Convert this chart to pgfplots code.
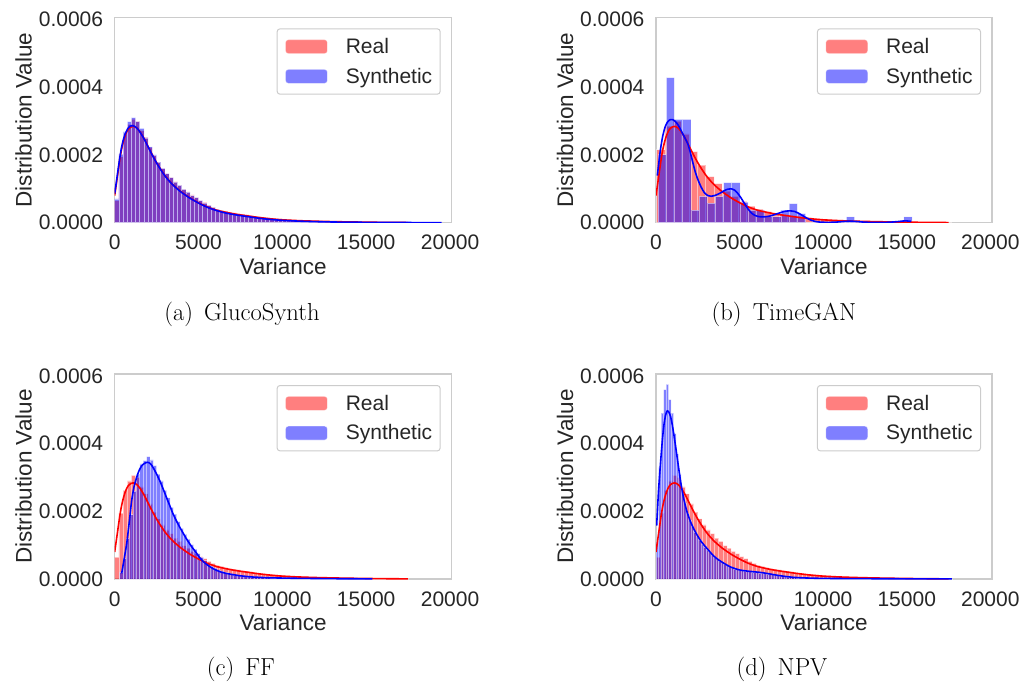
\documentclass[border=0pt]{standalone}
\usepackage{fontspec}
\usepackage{pgfplots}
\pgfplotsset{compat=1.18}
\newfontfamily\sans{Liberation Sans}
\definecolor{txt}{HTML}{262626}
\definecolor{frame}{HTML}{CCCCCC}

\pgfplotsset{
  histax/.style={
    scale only axis, anchor=north west,
    xmin=0, xmax=20100, ymin=0, ymax=6.06e-4,
    scaled ticks=false,
    xtick={0,5000,10000,15000,20000},
    xticklabels={0,5000,10000,15000,20000},
    ytick={0,2e-4,4e-4,6e-4},
    yticklabels={0.0000,0.0002,0.0004,0.0006},
    major tick length=0pt,
    axis line style={draw=frame, line width=1.3pt},
    tick label style={font=\sans\fontsize{21}{25}\selectfont, text=txt, inner sep=0pt},
    xticklabel style={anchor=base, yshift=-27pt},
    yticklabel style={anchor=east, xshift=-11.4pt},
    xlabel={Variance}, ylabel={Distribution Value},
    every axis x label/.style={at={(rel axis cs:0.5,0)}, yshift=-51.6pt, anchor=base,
      font=\sans\fontsize{22.5}{26}\selectfont, text=txt, inner sep=0pt},
    every axis y label/.style={at={(rel axis cs:0,0.5)}, anchor=base, rotate=90, yshift=83pt,
      font=\sans\fontsize{22.5}{26}\selectfont, text=txt, inner sep=0pt},
    legend style={at={(1,1)}, anchor=north east, xshift=-11pt, yshift=-11pt,
      draw=frame, line width=1pt, rounded corners=3pt, fill=white,
      inner xsep=8pt, inner ysep=9.5pt, row sep=13pt,
      font=\sans\fontsize{21}{25}\selectfont, text=txt,
      nodes={inner sep=0pt},
      /tikz/every odd column/.append style={column sep=18pt}},
    legend cell align=left,
  },
  realbar/.style={forget plot, ybar interval, fill=red, draw=white, line width=0.7pt, opacity=0.5},
  synbar/.style={forget plot, ybar interval, fill=blue, draw=white, line width=0.7pt, opacity=0.5},
  realkde/.style={forget plot, red, line width=1.6pt, smooth, tension=0.4, no markers},
  synkde/.style={forget plot, blue, line width=1.6pt, smooth, tension=0.4, no markers},
}

% legend swatches shared by the four panels
\newcommand{\histlegend}{%
  \addlegendimage{legend image code/.code={\filldraw[fill=red, draw=white, opacity=0.5, line width=0.7pt] (0pt,-7pt) rectangle (42pt,7pt);}}
  \addlegendentry{Real}
  \addlegendimage{legend image code/.code={\filldraw[fill=blue, draw=white, opacity=0.5, line width=0.7pt] (0pt,-7pt) rectangle (42pt,7pt);}}
  \addlegendentry{Synthetic}
}

% real-data histogram (bins of 250) used in panels a, c, d
\newcommand{\realhist}{%
  \addplot[realbar] coordinates {
    (0,0.65e-4) (250,1.95e-4) (500,2.62e-4) (750,2.90e-4) (1000,3.06e-4) (1250,3.00e-4)
    (1500,2.72e-4) (1750,2.52e-4) (2000,2.22e-4) (2250,1.98e-4) (2500,1.78e-4) (2750,1.60e-4)
    (3000,1.45e-4) (3250,1.34e-4) (3500,1.21e-4) (3750,1.11e-4) (4000,0.99e-4) (4250,0.91e-4)
    (4500,0.82e-4) (4750,0.75e-4) (5000,0.66e-4) (5250,0.60e-4) (5500,0.52e-4) (5750,0.46e-4)
    (6000,0.40e-4) (6250,0.37e-4) (6500,0.34e-4) (6750,0.31e-4) (7000,0.29e-4) (7250,0.27e-4)
    (7500,0.25e-4) (7750,0.23e-4) (8000,0.21e-4) (8250,0.19e-4) (8500,0.17e-4) (8750,0.16e-4)
    (9000,0.14e-4) (9250,0.13e-4) (9500,0.12e-4) (9750,0.11e-4) (10000,0.098e-4) (10250,0.090e-4)
    (10500,0.082e-4) (10750,0.076e-4) (11000,0.068e-4) (11250,0.062e-4) (11500,0.058e-4) (11750,0.052e-4)
    (12000,0.047e-4) (12250,0.044e-4) (12500,0.040e-4) (12750,0.036e-4) (13000,0.033e-4) (13250,0.030e-4)
    (13500,0.028e-4) (13750,0.025e-4) (14000,0.022e-4) (14250,0.020e-4) (14500,0.018e-4) (14750,0.017e-4)
    (15000,0.015e-4) (15250,0.013e-4) (15500,0.012e-4) (15750,0.011e-4) (16000,0.010e-4) (16250,0.009e-4)
    (16500,0.008e-4) (16750,0.007e-4) (17000,0.006e-4) (17250,0.005e-4) (17500,0)
  };
}

% kernel density of the real data
\newcommand{\realkde}{%
  \addplot[realkde] coordinates {
    (0,0.80e-4) (100,1.15e-4) (200,1.50e-4) (300,1.85e-4) (400,2.14e-4) (500,2.36e-4)
    (600,2.53e-4) (700,2.66e-4) (800,2.75e-4) (900,2.80e-4) (1000,2.83e-4) (1100,2.84e-4)
    (1200,2.83e-4) (1300,2.80e-4) (1400,2.75e-4) (1500,2.69e-4) (1700,2.53e-4) (1900,2.34e-4)
    (2100,2.14e-4) (2300,1.95e-4) (2500,1.77e-4) (2750,1.57e-4) (3000,1.39e-4) (3250,1.24e-4)
    (3500,1.11e-4) (3750,1.00e-4) (4000,0.90e-4) (4500,0.73e-4) (5000,0.59e-4) (5500,0.47e-4)
    (6000,0.38e-4) (6500,0.32e-4) (7000,0.27e-4) (7500,0.23e-4) (8000,0.195e-4) (8500,0.16e-4)
    (9000,0.13e-4) (9500,0.105e-4) (10000,0.085e-4) (11000,0.060e-4) (12000,0.044e-4)
    (13000,0.032e-4) (14000,0.023e-4) (15000,0.016e-4) (16000,0.010e-4) (17000,0.006e-4) (17500,0.004e-4)
  };
}

\begin{document}
\begin{tikzpicture}
\useasboundingbox (0,0) rectangle (1026pt,-691pt);

% ---------------- (a) GlucoSynth ----------------
\begin{axis}[histax, at={(114.7pt,-17.3pt)}, width=337pt, height=205.4pt]
\realhist
\addplot[synbar] coordinates {
  (0,0.70e-4) (250,2.02e-4) (500,2.68e-4) (750,2.98e-4) (1000,3.10e-4) (1250,2.98e-4)
  (1500,2.78e-4) (1750,2.50e-4) (2000,2.24e-4) (2250,2.00e-4) (2500,1.79e-4) (2750,1.60e-4)
  (3000,1.45e-4) (3250,1.33e-4) (3500,1.20e-4) (3750,1.10e-4) (4000,0.98e-4) (4250,0.90e-4)
  (4500,0.80e-4) (4750,0.74e-4) (5000,0.65e-4) (5250,0.58e-4) (5500,0.51e-4) (5750,0.45e-4)
  (6000,0.39e-4) (6250,0.35e-4) (6500,0.32e-4) (6750,0.29e-4) (7000,0.27e-4) (7250,0.25e-4)
  (7500,0.23e-4) (7750,0.21e-4) (8000,0.19e-4) (8250,0.17e-4) (8500,0.15e-4) (8750,0.14e-4)
  (9000,0.12e-4) (9250,0.11e-4) (9500,0.10e-4) (9750,0.09e-4) (10000,0.080e-4) (10250,0.072e-4)
  (10500,0.065e-4) (10750,0.058e-4) (11000,0.052e-4) (11250,0.047e-4) (11500,0.042e-4) (11750,0.038e-4)
  (12000,0.034e-4) (12250,0.031e-4) (12500,0.028e-4) (12750,0.025e-4) (13000,0.023e-4) (13250,0.021e-4)
  (13500,0.019e-4) (13750,0.017e-4) (14000,0.016e-4) (14250,0.015e-4) (14500,0.014e-4) (14750,0.013e-4)
  (15000,0.012e-4) (15250,0.011e-4) (15500,0.010e-4) (15750,0.009e-4) (16000,0.008e-4) (16250,0.008e-4)
  (16500,0.007e-4) (16750,0.007e-4) (17000,0.006e-4) (17250,0.006e-4) (17500,0.005e-4) (17750,0.005e-4)
  (18000,0.004e-4) (18250,0.004e-4) (18500,0.004e-4) (18750,0.003e-4) (19000,0.003e-4) (19250,0.003e-4)
  (19500,0)
};
\realkde
\addplot[synkde] coordinates {
  (0,0.86e-4) (100,1.20e-4) (200,1.56e-4) (300,1.90e-4) (400,2.20e-4) (500,2.42e-4)
  (600,2.58e-4) (700,2.70e-4) (800,2.79e-4) (900,2.84e-4) (1000,2.86e-4) (1100,2.86e-4)
  (1200,2.84e-4) (1300,2.80e-4) (1400,2.75e-4) (1500,2.68e-4) (1700,2.52e-4) (1900,2.33e-4)
  (2100,2.13e-4) (2300,1.94e-4) (2500,1.76e-4) (2750,1.56e-4) (3000,1.38e-4) (3250,1.23e-4)
  (3500,1.10e-4) (3750,0.99e-4) (4000,0.89e-4) (4500,0.72e-4) (5000,0.58e-4) (5500,0.46e-4)
  (6000,0.37e-4) (6500,0.30e-4) (7000,0.25e-4) (7500,0.21e-4) (8000,0.175e-4) (8500,0.14e-4)
  (9000,0.11e-4) (9500,0.088e-4) (10000,0.070e-4) (11000,0.046e-4) (12000,0.031e-4)
  (13000,0.021e-4) (14000,0.015e-4) (15000,0.011e-4) (16000,0.008e-4) (17000,0.006e-4)
  (18000,0.004e-4) (19000,0.003e-4) (19500,0.002e-4)
};
\histlegend
\end{axis}

% ---------------- (b) TimeGAN ----------------
\begin{axis}[histax, at={(656pt,-17.3pt)}, width=336pt, height=205.4pt]
\addplot[realbar] coordinates {
  (40,2.15e-4) (530,2.85e-4) (1020,3.00e-4) (1510,2.62e-4) (2000,2.10e-4) (2490,1.70e-4)
  (2980,1.36e-4) (3470,1.15e-4) (3960,0.93e-4) (4450,0.78e-4) (4940,0.63e-4) (5430,0.49e-4)
  (5920,0.40e-4) (6410,0.33e-4) (6900,0.28e-4) (7390,0.24e-4) (7880,0.20e-4) (8370,0.17e-4)
  (8860,0.14e-4) (9350,0.12e-4) (9840,0.10e-4) (10330,0.085e-4) (10820,0.072e-4) (11310,0.060e-4)
  (11800,0.050e-4) (12290,0.042e-4) (12780,0.036e-4) (13270,0.030e-4) (13760,0.025e-4) (14250,0.021e-4)
  (14740,0.018e-4) (15230,0.015e-4) (15720,0.012e-4) (16210,0.010e-4) (16700,0.008e-4) (17190,0.006e-4)
  (17680,0)
};
\addplot[synbar] coordinates {
  (125,2.01e-4) (615,4.28e-4) (1105,3.05e-4) (1595,3.05e-4) (2085,0.37e-4) (2575,0.78e-4)
  (3065,0.58e-4) (3555,0.78e-4) (4045,1.18e-4) (4535,1.18e-4) (5025,0.61e-4) (5515,0.37e-4)
  (6005,0.37e-4) (6495,0.175e-4) (6985,0.175e-4) (7475,0.37e-4) (7965,0.566e-4) (8455,0.27e-4)
  (8945,0) (9435,0) (9925,0) (10415,0) (10905,0) (11395,0.175e-4) (11885,0) (12375,0)
  (12865,0) (13355,0) (13845,0) (14335,0) (14825,0.175e-4) (15315,0)
};
\realkde
\addplot[synkde] coordinates {
  (80,1.39e-4) (250,2.10e-4) (400,2.55e-4) (550,2.83e-4) (700,2.98e-4) (850,3.04e-4)
  (1000,3.04e-4) (1150,2.99e-4) (1300,2.90e-4) (1450,2.77e-4) (1600,2.62e-4) (1750,2.48e-4)
  (1900,2.33e-4) (2050,2.08e-4) (2200,1.78e-4) (2350,1.50e-4) (2500,1.28e-4) (2700,1.05e-4)
  (2900,0.88e-4) (3100,0.80e-4) (3300,0.78e-4) (3500,0.80e-4) (3700,0.84e-4) (3900,0.89e-4)
  (4100,0.95e-4) (4300,0.99e-4) (4500,1.00e-4) (4700,0.96e-4) (4900,0.86e-4) (5100,0.72e-4)
  (5300,0.56e-4) (5500,0.41e-4) (5700,0.29e-4) (5900,0.22e-4) (6100,0.185e-4) (6300,0.17e-4)
  (6500,0.175e-4) (6800,0.195e-4) (7100,0.24e-4) (7400,0.29e-4) (7700,0.335e-4) (8000,0.35e-4)
  (8300,0.33e-4) (8600,0.26e-4) (8900,0.17e-4) (9200,0.09e-4) (9500,0.04e-4) (9800,0.018e-4)
  (10200,0.010e-4) (10700,0.015e-4) (11200,0.035e-4) (11600,0.045e-4) (12000,0.035e-4)
  (12500,0.015e-4) (13000,0.008e-4) (13500,0.008e-4) (14000,0.015e-4) (14500,0.035e-4)
  (14900,0.055e-4) (15260,0.040e-4)
};
\histlegend
\end{axis}

% ---------------- (c) FF ----------------
\begin{axis}[histax, at={(114.7pt,-374pt)}, width=337pt, height=205pt]
\realhist
\addplot[synbar] coordinates {
  (300,0.20e-4) (500,0.60e-4) (700,1.20e-4) (900,1.90e-4) (1100,2.60e-4) (1300,3.10e-4)
  (1500,3.40e-4) (1700,3.50e-4) (1900,3.62e-4) (2100,3.52e-4) (2300,3.35e-4) (2500,3.10e-4)
  (2700,2.90e-4) (2900,2.62e-4) (3100,2.40e-4) (3300,2.12e-4) (3500,1.92e-4) (3700,1.70e-4)
  (3900,1.50e-4) (4100,1.32e-4) (4300,1.18e-4) (4500,1.02e-4) (4700,0.88e-4) (4900,0.75e-4)
  (5100,0.64e-4) (5300,0.54e-4) (5500,0.46e-4) (5700,0.38e-4) (5900,0.32e-4) (6100,0.27e-4)
  (6300,0.23e-4) (6500,0.19e-4) (6700,0.16e-4) (6900,0.14e-4) (7100,0.12e-4) (7300,0.10e-4)
  (7500,0.088e-4) (7700,0.078e-4) (7900,0.068e-4) (8100,0.060e-4) (8300,0.054e-4) (8500,0.048e-4)
  (8700,0.043e-4) (8900,0.040e-4) (9100,0.036e-4) (9300,0.033e-4) (9500,0.030e-4) (9700,0.028e-4)
  (9900,0.026e-4) (10100,0.024e-4) (10300,0.022e-4) (10500,0.021e-4) (10700,0.020e-4) (10900,0.019e-4)
  (11100,0.018e-4) (11300,0.017e-4) (11500,0.016e-4) (11700,0.015e-4) (11900,0.014e-4) (12100,0.013e-4)
  (12300,0.012e-4) (12500,0.012e-4) (12700,0.011e-4) (12900,0.010e-4) (13100,0.010e-4) (13300,0.009e-4)
  (13500,0.009e-4) (13700,0.008e-4) (13900,0.008e-4) (14100,0.007e-4) (14300,0.007e-4) (14500,0.006e-4)
  (14700,0.006e-4) (14900,0.005e-4) (15100,0.005e-4) (15300,0.005e-4) (15500,0)
};
\realkde
\addplot[synkde] coordinates {
  (416,0.166e-4) (550,0.55e-4) (713,1.04e-4) (850,1.60e-4) (1010,2.31e-4) (1150,2.72e-4)
  (1307,3.00e-4) (1450,3.20e-4) (1604,3.34e-4) (1780,3.42e-4) (1960,3.45e-4) (2130,3.41e-4)
  (2297,3.29e-4) (2500,3.10e-4) (2693,2.90e-4) (2900,2.65e-4) (3089,2.41e-4) (3300,2.15e-4)
  (3485,1.92e-4) (3700,1.70e-4) (3881,1.53e-4) (4100,1.34e-4) (4277,1.19e-4) (4500,1.02e-4)
  (4673,0.90e-4) (4900,0.75e-4) (5069,0.63e-4) (5300,0.51e-4) (5465,0.44e-4) (5750,0.34e-4)
  (6059,0.26e-4) (6350,0.205e-4) (6653,0.166e-4) (7050,0.13e-4) (7445,0.098e-4) (7850,0.076e-4)
  (8237,0.059e-4) (9029,0.039e-4) (10000,0.028e-4) (11009,0.020e-4) (12000,0.015e-4)
  (12990,0.010e-4) (14000,0.007e-4) (15366,0.005e-4)
};
\histlegend
\end{axis}

% ---------------- (d) NPV ----------------
\begin{axis}[histax, at={(656pt,-374pt)}, width=336pt, height=205pt]
\realhist
\addplot[synbar] coordinates {
  (0,1.10e-4) (150,3.30e-4) (300,4.90e-4) (450,5.60e-4) (600,5.75e-4) (750,5.30e-4)
  (900,4.90e-4) (1050,4.30e-4) (1200,3.70e-4) (1350,3.10e-4) (1500,2.60e-4) (1650,2.25e-4)
  (1800,1.95e-4) (1950,1.72e-4) (2100,1.55e-4) (2250,1.38e-4) (2400,1.25e-4) (2550,1.13e-4)
  (2700,1.02e-4) (2850,0.94e-4) (3000,0.86e-4) (3150,0.78e-4) (3300,0.70e-4) (3450,0.64e-4)
  (3600,0.58e-4) (3750,0.53e-4) (3900,0.48e-4) (4050,0.44e-4) (4200,0.40e-4) (4350,0.36e-4)
  (4500,0.33e-4) (4650,0.30e-4) (4800,0.28e-4) (4950,0.26e-4) (5100,0.25e-4) (5250,0.24e-4)
  (5400,0.23e-4) (5550,0.22e-4) (5700,0.21e-4) (5850,0.20e-4) (6000,0.19e-4) (6150,0.18e-4)
  (6300,0.17e-4) (6450,0.16e-4) (6600,0.15e-4) (6750,0.14e-4) (6900,0.13e-4) (7050,0.11e-4)
  (7200,0.10e-4) (7350,0.088e-4) (7500,0.075e-4) (7650,0.065e-4) (7800,0.056e-4) (7950,0.048e-4)
  (8100,0.042e-4) (8250,0.037e-4) (8400,0.033e-4) (8550,0.030e-4) (8700,0.027e-4) (8850,0.025e-4)
  (9000,0.023e-4) (9300,0.021e-4) (9600,0.019e-4) (9900,0.017e-4) (10200,0.016e-4) (10500,0.015e-4)
  (10800,0.014e-4) (11100,0.013e-4) (11400,0.012e-4) (11700,0.011e-4) (12000,0.010e-4) (12300,0.009e-4)
  (12600,0.009e-4) (12900,0.008e-4) (13200,0.008e-4) (13500,0.007e-4) (13800,0.007e-4) (14100,0.006e-4)
  (14400,0.006e-4) (14700,0.005e-4) (15000,0.005e-4) (15300,0.005e-4) (15600,0.004e-4) (15900,0.004e-4)
  (16200,0.004e-4) (16500,0.003e-4) (16800,0.003e-4) (17100,0.003e-4) (17400,0.003e-4) (17700,0)
};
\realkde
\addplot[synkde] coordinates {
  (40,1.58e-4) (150,2.60e-4) (278,3.48e-4) (380,4.10e-4) (476,4.56e-4) (575,4.85e-4)
  (674,4.97e-4) (773,4.93e-4) (873,4.80e-4) (970,4.57e-4) (1071,4.26e-4) (1170,3.93e-4)
  (1270,3.58e-4) (1370,3.23e-4) (1468,2.90e-4) (1570,2.60e-4) (1666,2.36e-4) (1765,2.15e-4)
  (1865,1.97e-4) (2060,1.70e-4) (2262,1.48e-4) (2460,1.30e-4) (2659,1.14e-4) (2860,1.01e-4)
  (3055,0.90e-4) (3250,0.79e-4) (3452,0.68e-4) (3650,0.60e-4) (3849,0.53e-4) (4150,0.44e-4)
  (4444,0.36e-4) (4740,0.305e-4) (5040,0.263e-4) (5440,0.235e-4) (5833,0.215e-4) (6230,0.195e-4)
  (6627,0.166e-4) (7020,0.13e-4) (7420,0.098e-4) (7820,0.070e-4) (8214,0.050e-4) (8600,0.038e-4)
  (9007,0.030e-4) (9800,0.020e-4) (11000,0.014e-4) (12500,0.010e-4) (14000,0.007e-4)
  (15500,0.005e-4) (17000,0.003e-4) (17700,0.002e-4)
};
\histlegend
\end{axis}

% sub-figure captions
\begin{scope}[every node/.style={anchor=base, inner sep=0pt, font=\fontsize{24.6}{29}\selectfont}]
\node at (242pt,-320.7pt) {(a)\hspace{0.45em}GlucoSynth};
\node at (784pt,-320.7pt) {(b)\hspace{0.45em}TimeGAN};
\node at (241pt,-675.7pt) {(c)\hspace{0.45em}FF};
\node at (782pt,-675.7pt) {(d)\hspace{0.45em}NPV};
\end{scope}
\end{tikzpicture}
\end{document}
